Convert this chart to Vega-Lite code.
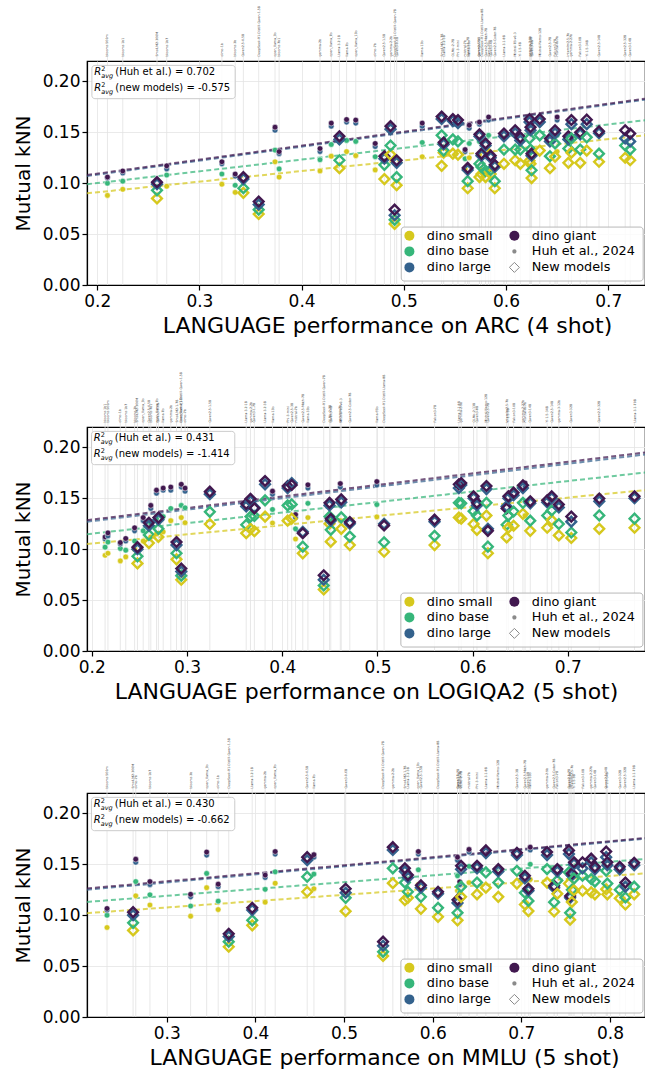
{
  "$schema": "https://vega.github.io/schema/vega-lite/v6.json",
  "padding": {"left": 12, "top": 5, "right": 0, "bottom": 0},
  "bounds": "flush",
  "spacing": 142,
  "config": {
    "font": "DejaVu Sans",
    "view": {"stroke": "black", "strokeWidth": 1.2},
    "axis": {"domainColor": "black", "domainWidth": 1.2, "tickColor": "black", "tickWidth": 1.2, "tickSize": 5, "labelFontSize": 17, "labelColor": "black", "titleFontSize": 20, "titleFontWeight": "normal", "titleColor": "black", "grid": true, "gridColor": "#e8e8e8", "gridWidth": 0.9, "labelFont": "DejaVu Sans", "titleFont": "DejaVu Sans"},
    "axisX": {"titleFontSize": 22},
    "legend": {"labelFont": "DejaVu Sans", "padding": 6, "labelFontSize": 12.8, "labelColor": "black", "columnPadding": 14, "rowPadding": 1, "labelOffset": 11, "offset": 4, "symbolOpacity": 1, "symbolStrokeWidth": 1}
  },
  "resolve": {"scale": {"color": "independent", "fill": "independent", "stroke": "independent", "shape": "independent", "x": "independent", "y": "independent"}, "legend": {"color": "independent", "fill": "independent", "stroke": "independent", "shape": "independent"}, "axis": {"x": "independent", "y": "independent"}},
  "datasets": {
    "leg": [{"e":"dino small"},{"e":"dino base"},{"e":"dino large"},{"e":"dino giant"},{"e":"Huh et al., 2024"},{"e":"New models"}],
    "pts": [
      {"p":"ARC","t":"h","m":"bloomz-560m","x":0.210,"dino small":0.088,"dino base":0.100,"dino large":0.105,"dino giant":0.106},
      {"p":"ARC","t":"h","m":"bloomz-1b1","x":0.225,"dino small":0.094,"dino base":0.102,"dino large":0.110,"dino giant":0.112},
      {"p":"ARC","t":"h","m":"bloomz-1b7","x":0.268,"dino small":0.097,"dino base":0.108,"dino large":0.114,"dino giant":0.117},
      {"p":"ARC","t":"h","m":"olmo-1b","x":0.322,"dino small":0.099,"dino base":0.109,"dino large":0.119,"dino giant":0.121},
      {"p":"ARC","t":"h","m":"bloomz-3b","x":0.335,"dino small":0.091,"dino base":0.098,"dino large":0.107,"dino giant":0.109},
      {"p":"ARC","t":"h","m":"open_llama_3b","x":0.374,"dino small":0.121,"dino base":0.1325,"dino large":0.152,"dino giant":0.155},
      {"p":"ARC","t":"h","m":"bloomz-7b1","x":0.378,"dino small":0.106,"dino base":0.114,"dino large":0.129,"dino giant":0.131},
      {"p":"ARC","t":"h","m":"gemma-2b","x":0.418,"dino small":0.112,"dino base":0.123,"dino large":0.131,"dino giant":0.134},
      {"p":"ARC","t":"h","m":"open_llama_7b","x":0.429,"dino small":0.1265,"dino base":0.138,"dino large":0.156,"dino giant":0.159},
      {"p":"ARC","t":"h","m":"llama-7b","x":0.444,"dino small":0.131,"dino base":0.142,"dino large":0.160,"dino giant":0.1625},
      {"p":"ARC","t":"h","m":"open_llama_13b","x":0.453,"dino small":0.127,"dino base":0.141,"dino large":0.159,"dino giant":0.162},
      {"p":"ARC","t":"h","m":"olmo-7b","x":0.472,"dino small":0.113,"dino base":0.126,"dino large":0.136,"dino giant":0.139},
      {"p":"ARC","t":"h","m":"llama-13b","x":0.518,"dino small":0.126,"dino base":0.140,"dino large":0.156,"dino giant":0.159},
      {"p":"ARC","t":"h","m":"mistral-7b","x":0.560,"dino small":0.114,"dino base":0.124,"dino large":0.131,"dino giant":0.133},
      {"p":"ARC","t":"h","m":"llama-33b","x":0.564,"dino small":0.125,"dino base":0.139,"dino large":0.154,"dino giant":0.157},
      {"p":"ARC","t":"h","m":"gemma-7b","x":0.574,"dino small":0.128,"dino base":0.141,"dino large":0.158,"dino giant":0.160},
      {"p":"ARC","t":"h","m":"llama-65b","x":0.583,"dino small":0.132,"dino base":0.147,"dino large":0.162,"dino giant":0.165},
      {"p":"ARC","t":"h","m":"mixtral-8x7b","x":0.650,"dino small":0.131,"dino base":0.147,"dino large":0.162,"dino giant":0.165},
      {"p":"ARC","t":"n","m":"SmolLM2-360M","x":0.2585,"dino small":0.085,"dino base":0.093,"dino large":0.099,"dino giant":0.101},
      {"p":"ARC","t":"n","m":"Qwen2.5-0.5B","x":0.343,"dino small":0.0905,"dino base":0.095,"dino large":0.104,"dino giant":0.106},
      {"p":"ARC","t":"n","m":"DeepSeek-R1-Distill-Qwen-1.5B","x":0.358,"dino small":0.0697,"dino base":0.074,"dino large":0.079,"dino giant":0.082},
      {"p":"ARC","t":"n","m":"Llama-3.2-1B","x":0.437,"dino small":0.1147,"dino base":0.1225,"dino large":0.143,"dino giant":0.146},
      {"p":"ARC","t":"n","m":"Qwen2.5-1.5B","x":0.481,"dino small":0.104,"dino base":0.118,"dino large":0.124,"dino giant":0.1265},
      {"p":"ARC","t":"n","m":"gemma-2-2b","x":0.487,"dino small":0.128,"dino base":0.137,"dino large":0.153,"dino giant":0.156},
      {"p":"ARC","t":"n","m":"DeepSeek-R1-Distill-Qwen-7B","x":0.491,"dino small":0.060,"dino base":0.064,"dino large":0.0685,"dino giant":0.074},
      {"p":"ARC","t":"n","m":"Qwen3-0.6B","x":0.493,"dino small":0.098,"dino base":0.106,"dino large":0.120,"dino giant":0.1225},
      {"p":"ARC","t":"n","m":"SmolLM2-1.7B","x":0.537,"dino small":0.117,"dino base":0.147,"dino large":0.163,"dino giant":0.1655},
      {"p":"ARC","t":"n","m":"Llama-3.2-3B","x":0.539,"dino small":0.130,"dino base":0.132,"dino large":0.138,"dino giant":0.140},
      {"p":"ARC","t":"n","m":"OLMo-2-7B","x":0.548,"dino small":0.129,"dino base":0.143,"dino large":0.161,"dino giant":0.163},
      {"p":"ARC","t":"n","m":"Phi-3-mini","x":0.553,"dino small":0.128,"dino base":0.141,"dino large":0.159,"dino giant":0.162},
      {"p":"ARC","t":"n","m":"Qwen3-1.7B","x":0.5625,"dino small":0.095,"dino base":0.102,"dino large":0.113,"dino giant":0.115},
      {"p":"ARC","t":"n","m":"Qwen2.5-3B","x":0.574,"dino small":0.106,"dino base":0.119,"dino large":0.146,"dino giant":0.148},
      {"p":"ARC","t":"n","m":"DeepSeek-R1-Distill-Llama-8B","x":0.576,"dino small":0.109,"dino base":0.116,"dino large":0.127,"dino giant":0.129},
      {"p":"ARC","t":"n","m":"Qwen2.5-Math-7B","x":0.580,"dino small":0.106,"dino base":0.112,"dino large":0.137,"dino giant":0.139},
      {"p":"ARC","t":"n","m":"Qwen3-4B","x":0.585,"dino small":0.109,"dino base":0.113,"dino large":0.125,"dino giant":0.127},
      {"p":"ARC","t":"n","m":"Qwen2.5-Coder-7B","x":0.589,"dino small":0.095,"dino base":0.102,"dino large":0.116,"dino giant":0.118},
      {"p":"ARC","t":"n","m":"Llama-3.1-8B","x":0.598,"dino small":0.119,"dino base":0.133,"dino large":0.146,"dino giant":0.1487},
      {"p":"ARC","t":"n","m":"Mistral-7B-v0.3","x":0.609,"dino small":0.1225,"dino base":0.133,"dino large":0.149,"dino giant":0.152},
      {"p":"ARC","t":"n","m":"Yi-1.5-6B","x":0.614,"dino small":0.119,"dino base":0.133,"dino large":0.142,"dino giant":0.145},
      {"p":"ARC","t":"n","m":"gemma-2-9b","x":0.623,"dino small":0.122,"dino base":0.144,"dino large":0.160,"dino giant":0.163},
      {"p":"ARC","t":"n","m":"OLMo-2-13B","x":0.624,"dino small":0.119,"dino base":0.133,"dino large":0.152,"dino giant":0.155},
      {"p":"ARC","t":"n","m":"Qwen3-8B","x":0.625,"dino small":0.105,"dino base":0.1127,"dino large":0.127,"dino giant":0.129},
      {"p":"ARC","t":"n","m":"Mistral-Nemo-12B","x":0.633,"dino small":0.132,"dino base":0.147,"dino large":0.160,"dino giant":0.163},
      {"p":"ARC","t":"n","m":"Qwen2.5-7B","x":0.643,"dino small":0.1147,"dino base":0.1265,"dino large":0.141,"dino giant":0.1438},
      {"p":"ARC","t":"n","m":"Falcon3-7B","x":0.648,"dino small":0.126,"dino base":0.139,"dino large":0.149,"dino giant":0.152},
      {"p":"ARC","t":"n","m":"internlm2.5-7b","x":0.661,"dino small":0.120,"dino base":0.134,"dino large":0.143,"dino giant":0.146},
      {"p":"ARC","t":"n","m":"gemma-2-27b","x":0.664,"dino small":0.130,"dino base":0.144,"dino large":0.158,"dino giant":0.162},
      {"p":"ARC","t":"n","m":"Falcon3-10B","x":0.6726,"dino small":0.120,"dino base":0.133,"dino large":0.148,"dino giant":0.150},
      {"p":"ARC","t":"n","m":"Yi-1.5-34B","x":0.679,"dino small":0.132,"dino base":0.145,"dino large":0.158,"dino giant":0.1624},
      {"p":"ARC","t":"n","m":"Qwen2.5-14B","x":0.691,"dino small":0.121,"dino base":0.129,"dino large":0.149,"dino giant":0.151},
      {"p":"ARC","t":"n","m":"Qwen2.5-32B","x":0.7166,"dino small":0.125,"dino base":0.137,"dino large":0.144,"dino giant":0.152},
      {"p":"ARC","t":"n","m":"Qwen3-14B","x":0.7215,"dino small":0.1225,"dino base":0.133,"dino large":0.141,"dino giant":0.1487},

      {"p":"LOGIQA2","t":"h","m":"bloomz-1b1","x":0.214,"dino small":0.094,"dino base":0.102,"dino large":0.110,"dino giant":0.112},
      {"p":"LOGIQA2","t":"h","m":"bloomz-560m","x":0.217,"dino small":0.096,"dino base":0.107,"dino large":0.113,"dino giant":0.116},
      {"p":"LOGIQA2","t":"h","m":"olmo-1b","x":0.230,"dino small":0.0885,"dino base":0.1007,"dino large":0.105,"dino giant":0.1065},
      {"p":"LOGIQA2","t":"h","m":"bloomz-1b7","x":0.2357,"dino small":0.0924,"dino base":0.099,"dino large":0.108,"dino giant":0.1105},
      {"p":"LOGIQA2","t":"h","m":"bloomz-3b","x":0.245,"dino small":0.100,"dino base":0.108,"dino large":0.118,"dino giant":0.121},
      {"p":"LOGIQA2","t":"h","m":"open_llama_3b","x":0.254,"dino small":0.108,"dino base":0.118,"dino large":0.128,"dino giant":0.131},
      {"p":"LOGIQA2","t":"h","m":"bloomz-7b1","x":0.262,"dino small":0.112,"dino base":0.125,"dino large":0.140,"dino giant":0.143},
      {"p":"LOGIQA2","t":"h","m":"open_llama_7b","x":0.268,"dino small":0.115,"dino base":0.130,"dino large":0.155,"dino giant":0.158},
      {"p":"LOGIQA2","t":"h","m":"llama-7b","x":0.275,"dino small":0.117,"dino base":0.132,"dino large":0.158,"dino giant":0.160},
      {"p":"LOGIQA2","t":"h","m":"gemma-2b","x":0.283,"dino small":0.128,"dino base":0.140,"dino large":0.158,"dino giant":0.161},
      {"p":"LOGIQA2","t":"h","m":"open_llama_13b","x":0.294,"dino small":0.131,"dino base":0.143,"dino large":0.161,"dino giant":0.1637},
      {"p":"LOGIQA2","t":"h","m":"olmo-7b","x":0.298,"dino small":0.126,"dino base":0.1406,"dino large":0.157,"dino giant":0.160},
      {"p":"LOGIQA2","t":"h","m":"llama-13b","x":0.3898,"dino small":0.1257,"dino base":0.139,"dino large":0.154,"dino giant":0.157},
      {"p":"LOGIQA2","t":"h","m":"mistral-7b","x":0.414,"dino small":0.110,"dino base":0.120,"dino large":0.131,"dino giant":0.134},
      {"p":"LOGIQA2","t":"h","m":"llama-33b","x":0.427,"dino small":0.131,"dino base":0.145,"dino large":0.160,"dino giant":0.1632},
      {"p":"LOGIQA2","t":"h","m":"gemma-7b","x":0.461,"dino small":0.128,"dino base":0.143,"dino large":0.161,"dino giant":0.1644},
      {"p":"LOGIQA2","t":"h","m":"llama-65b","x":0.4994,"dino small":0.1317,"dino base":0.1438,"dino large":0.163,"dino giant":0.1664},
      {"p":"LOGIQA2","t":"h","m":"mixtral-8x7b","x":0.655,"dino small":0.133,"dino base":0.147,"dino large":0.162,"dino giant":0.165},
      {"p":"LOGIQA2","t":"n","m":"SmolLM2-360M","x":0.248,"dino small":0.086,"dino base":0.093,"dino large":0.100,"dino giant":0.102},
      {"p":"LOGIQA2","t":"n","m":"Qwen2.5-0.5B","x":0.260,"dino small":0.106,"dino base":0.114,"dino large":0.123,"dino giant":0.126},
      {"p":"LOGIQA2","t":"n","m":"Qwen3-0.6B","x":0.270,"dino small":0.112,"dino base":0.120,"dino large":0.129,"dino giant":0.131},
      {"p":"LOGIQA2","t":"n","m":"SmolLM2-1.7B","x":0.289,"dino small":0.090,"dino base":0.096,"dino large":0.104,"dino giant":0.107},
      {"p":"LOGIQA2","t":"n","m":"DeepSeek-R1-Distill-Qwen-1.5B","x":0.294,"dino small":0.070,"dino base":0.074,"dino large":0.078,"dino giant":0.081},
      {"p":"LOGIQA2","t":"n","m":"Qwen2.5-1.5B","x":0.324,"dino small":0.1247,"dino base":0.1367,"dino large":0.154,"dino giant":0.1565},
      {"p":"LOGIQA2","t":"n","m":"Llama-3.2-1B","x":0.3622,"dino small":0.1157,"dino base":0.124,"dino large":0.142,"dino giant":0.1445},
      {"p":"LOGIQA2","t":"n","m":"gemma-2-2b","x":0.3667,"dino small":0.120,"dino base":0.132,"dino large":0.147,"dino giant":0.1495},
      {"p":"LOGIQA2","t":"n","m":"Qwen3-1.7B","x":0.3708,"dino small":0.1176,"dino base":0.1326,"dino large":0.141,"dino giant":0.1401},
      {"p":"LOGIQA2","t":"n","m":"Llama-3.2-3B","x":0.382,"dino small":0.132,"dino base":0.148,"dino large":0.1637,"dino giant":0.167},
      {"p":"LOGIQA2","t":"n","m":"Phi-3-mini","x":0.4057,"dino small":0.128,"dino base":0.143,"dino large":0.160,"dino giant":0.162},
      {"p":"LOGIQA2","t":"n","m":"Qwen2.5-3B","x":0.410,"dino small":0.130,"dino base":0.144,"dino large":0.165,"dino giant":0.163},
      {"p":"LOGIQA2","t":"n","m":"Qwen2.5-Math-7B","x":0.4216,"dino small":0.0959,"dino base":0.1025,"dino large":0.117,"dino giant":0.1157},
      {"p":"LOGIQA2","t":"n","m":"DeepSeek-R1-Distill-Qwen-7B","x":0.4436,"dino small":0.0604,"dino base":0.0643,"dino large":0.070,"dino giant":0.0743},
      {"p":"LOGIQA2","t":"n","m":"OLMo-2-7B","x":0.4497,"dino small":0.125,"dino base":0.132,"dino large":0.143,"dino giant":0.1455},
      {"p":"LOGIQA2","t":"n","m":"Qwen3-4B","x":0.451,"dino small":0.1074,"dino base":0.119,"dino large":0.128,"dino giant":0.1298},
      {"p":"LOGIQA2","t":"n","m":"Mistral-7B-v0.3","x":0.462,"dino small":0.120,"dino base":0.1313,"dino large":0.146,"dino giant":0.1489},
      {"p":"LOGIQA2","t":"n","m":"Qwen2.5-Coder-7B","x":0.471,"dino small":0.104,"dino base":0.1124,"dino large":0.125,"dino giant":0.1266},
      {"p":"LOGIQA2","t":"n","m":"DeepSeek-R1-Distill-Llama-8B","x":0.507,"dino small":0.0975,"dino base":0.1068,"dino large":0.125,"dino giant":0.1233},
      {"p":"LOGIQA2","t":"n","m":"Falcon3-7B","x":0.560,"dino small":0.104,"dino base":0.1131,"dino large":0.127,"dino giant":0.129},
      {"p":"LOGIQA2","t":"n","m":"Llama-3.1-8B","x":0.5855,"dino small":0.131,"dino base":0.1455,"dino large":0.160,"dino giant":0.1637},
      {"p":"LOGIQA2","t":"n","m":"gemma-2-9b","x":0.588,"dino small":0.130,"dino base":0.145,"dino large":0.163,"dino giant":0.165},
      {"p":"LOGIQA2","t":"n","m":"OLMo-2-13B","x":0.601,"dino small":0.1247,"dino base":0.1373,"dino large":0.150,"dino giant":0.152},
      {"p":"LOGIQA2","t":"n","m":"Qwen3-8B","x":0.6045,"dino small":0.119,"dino base":0.133,"dino large":0.143,"dino giant":0.1455},
      {"p":"LOGIQA2","t":"n","m":"Mistral-Nemo-12B","x":0.6145,"dino small":0.133,"dino base":0.1455,"dino large":0.159,"dino giant":0.162},
      {"p":"LOGIQA2","t":"n","m":"Qwen2.5-7B","x":0.616,"dino small":0.096,"dino base":0.1025,"dino large":0.120,"dino giant":0.118},
      {"p":"LOGIQA2","t":"n","m":"internlm2.5-7b","x":0.6357,"dino small":0.1115,"dino base":0.124,"dino large":0.142,"dino giant":0.140},
      {"p":"LOGIQA2","t":"n","m":"Yi-1.5-9B","x":0.6375,"dino small":0.121,"dino base":0.133,"dino large":0.150,"dino giant":0.152},
      {"p":"LOGIQA2","t":"n","m":"Falcon3-10B","x":0.643,"dino small":0.123,"dino base":0.137,"dino large":0.153,"dino giant":0.1555},
      {"p":"LOGIQA2","t":"n","m":"gemma-2-27b","x":0.6528,"dino small":0.1347,"dino base":0.1455,"dino large":0.160,"dino giant":0.1627},
      {"p":"LOGIQA2","t":"n","m":"Qwen3-14B","x":0.6605,"dino small":0.118,"dino base":0.128,"dino large":0.145,"dino giant":0.147},
      {"p":"LOGIQA2","t":"n","m":"Yi-1.5-34B","x":0.6783,"dino small":0.121,"dino base":0.133,"dino large":0.146,"dino giant":0.148},
      {"p":"LOGIQA2","t":"n","m":"Qwen2.5-14B","x":0.683,"dino small":0.1285,"dino base":0.138,"dino large":0.150,"dino giant":0.152},
      {"p":"LOGIQA2","t":"n","m":"gemma-3-12b","x":0.6905,"dino small":0.1135,"dino base":0.1247,"dino large":0.141,"dino giant":0.1438},
      {"p":"LOGIQA2","t":"n","m":"Qwen3-32B","x":0.7036,"dino small":0.111,"dino base":0.1164,"dino large":0.127,"dino giant":0.132},
      {"p":"LOGIQA2","t":"n","m":"Qwen2.5-32B","x":0.733,"dino small":0.120,"dino base":0.1332,"dino large":0.147,"dino giant":0.1498},
      {"p":"LOGIQA2","t":"n","m":"Llama-3.1-70B","x":0.770,"dino small":0.121,"dino base":0.130,"dino large":0.150,"dino giant":0.152},

      {"p":"MMLU","t":"h","m":"bloomz-560m","x":0.2326,"dino small":0.0879,"dino base":0.100,"dino large":0.105,"dino giant":0.1066},
      {"p":"MMLU","t":"h","m":"olmo-7b","x":0.265,"dino small":0.119,"dino base":0.133,"dino large":0.152,"dino giant":0.155},
      {"p":"MMLU","t":"h","m":"bloomz-1b7","x":0.281,"dino small":0.110,"dino base":0.120,"dino large":0.130,"dino giant":0.133},
      {"p":"MMLU","t":"h","m":"bloomz-3b","x":0.3269,"dino small":0.099,"dino base":0.109,"dino large":0.118,"dino giant":0.1205},
      {"p":"MMLU","t":"h","m":"open_llama_3b","x":0.345,"dino small":0.127,"dino base":0.141,"dino large":0.159,"dino giant":0.162},
      {"p":"MMLU","t":"h","m":"olmo-1b","x":0.358,"dino small":0.1055,"dino base":0.1138,"dino large":0.128,"dino giant":0.1305},
      {"p":"MMLU","t":"h","m":"gemma-2b","x":0.411,"dino small":0.1128,"dino base":0.1254,"dino large":0.137,"dino giant":0.1394},
      {"p":"MMLU","t":"h","m":"open_llama_7b","x":0.4223,"dino small":0.1314,"dino base":0.1426,"dino large":0.160,"dino giant":0.1625},
      {"p":"MMLU","t":"h","m":"llama-7b","x":0.466,"dino small":0.126,"dino base":0.1404,"dino large":0.157,"dino giant":0.1594},
      {"p":"MMLU","t":"h","m":"open_llama_13b","x":0.5838,"dino small":0.130,"dino base":0.1446,"dino large":0.160,"dino giant":0.1625},
      {"p":"MMLU","t":"h","m":"llama-13b","x":0.628,"dino small":0.124,"dino base":0.1387,"dino large":0.154,"dino giant":0.157},
      {"p":"MMLU","t":"h","m":"gemma-7b","x":0.6305,"dino small":0.110,"dino base":0.122,"dino large":0.130,"dino giant":0.1328},
      {"p":"MMLU","t":"h","m":"mistral-7b","x":0.641,"dino small":0.132,"dino base":0.148,"dino large":0.162,"dino giant":0.1646},
      {"p":"MMLU","t":"h","m":"llama-33b","x":0.710,"dino small":0.135,"dino base":0.150,"dino large":0.164,"dino giant":0.1668},
      {"p":"MMLU","t":"n","m":"SmolLM2-360M","x":0.262,"dino small":0.085,"dino base":0.0925,"dino large":0.100,"dino giant":0.103},
      {"p":"MMLU","t":"n","m":"DeepSeek-R1-Distill-Qwen-1.5B","x":0.3699,"dino small":0.069,"dino base":0.074,"dino large":0.079,"dino giant":0.0817},
      {"p":"MMLU","t":"n","m":"Llama-3.2-1B","x":0.3964,"dino small":0.090,"dino base":0.0949,"dino large":0.105,"dino giant":0.1072},
      {"p":"MMLU","t":"n","m":"Qwen2.5-0.5B","x":0.4584,"dino small":0.123,"dino base":0.1377,"dino large":0.154,"dino giant":0.157},
      {"p":"MMLU","t":"n","m":"Qwen3-0.6B","x":0.5018,"dino small":0.1039,"dino base":0.117,"dino large":0.122,"dino giant":0.126},
      {"p":"MMLU","t":"n","m":"DeepSeek-R1-Distill-Qwen-7B","x":0.544,"dino small":0.060,"dino base":0.064,"dino large":0.070,"dino giant":0.074},
      {"p":"MMLU","t":"n","m":"gemma-2-2b","x":0.555,"dino small":0.1314,"dino base":0.146,"dino large":0.164,"dino giant":0.1668},
      {"p":"MMLU","t":"n","m":"SmolLM2-1.7B","x":0.5686,"dino small":0.1148,"dino base":0.132,"dino large":0.143,"dino giant":0.146},
      {"p":"MMLU","t":"n","m":"Llama-3.2-3B","x":0.572,"dino small":0.117,"dino base":0.123,"dino large":0.137,"dino giant":0.1394},
      {"p":"MMLU","t":"n","m":"Qwen2.5-1.5B","x":0.5867,"dino small":0.1062,"dino base":0.118,"dino large":0.127,"dino giant":0.1294},
      {"p":"MMLU","t":"n","m":"DeepSeek-R1-Distill-Llama-8B","x":0.606,"dino small":0.0984,"dino base":0.1072,"dino large":0.121,"dino giant":0.123},
      {"p":"MMLU","t":"n","m":"Qwen3-1.7B","x":0.628,"dino small":0.0949,"dino base":0.1023,"dino large":0.112,"dino giant":0.1151},
      {"p":"MMLU","t":"n","m":"OLMo-2-7B","x":0.632,"dino small":0.118,"dino base":0.128,"dino large":0.145,"dino giant":0.1485},
      {"p":"MMLU","t":"n","m":"Phi-3-mini","x":0.650,"dino small":0.1205,"dino base":0.132,"dino large":0.146,"dino giant":0.1485},
      {"p":"MMLU","t":"n","m":"Llama-3.1-8B","x":0.660,"dino small":0.127,"dino base":0.142,"dino large":0.161,"dino giant":0.1636},
      {"p":"MMLU","t":"n","m":"Mistral-Nemo-12B","x":0.674,"dino small":0.118,"dino base":0.132,"dino large":0.143,"dino giant":0.1453},
      {"p":"MMLU","t":"n","m":"Qwen2.5-3B","x":0.695,"dino small":0.131,"dino base":0.1436,"dino large":0.159,"dino giant":0.1613},
      {"p":"MMLU","t":"n","m":"Qwen2.5-Math-7B","x":0.704,"dino small":0.1105,"dino base":0.122,"dino large":0.136,"dino giant":0.1387},
      {"p":"MMLU","t":"n","m":"Qwen3-4B","x":0.708,"dino small":0.104,"dino base":0.114,"dino large":0.124,"dino giant":0.126},
      {"p":"MMLU","t":"n","m":"gemma-2-9b","x":0.729,"dino small":0.132,"dino base":0.1453,"dino large":0.159,"dino giant":0.162},
      {"p":"MMLU","t":"n","m":"Qwen2.5-Coder-7B","x":0.737,"dino small":0.1036,"dino base":0.1128,"dino large":0.127,"dino giant":0.1289},
      {"p":"MMLU","t":"n","m":"Falcon3-7B","x":0.7406,"dino small":0.121,"dino base":0.134,"dino large":0.143,"dino giant":0.1453},
      {"p":"MMLU","t":"n","m":"Qwen2.5-7B","x":0.7537,"dino small":0.131,"dino base":0.142,"dino large":0.160,"dino giant":0.1636},
      {"p":"MMLU","t":"n","m":"Qwen3-8B","x":0.755,"dino small":0.0956,"dino base":0.1023,"dino large":0.117,"dino giant":0.1188},
      {"p":"MMLU","t":"n","m":"internlm2.5-7b","x":0.757,"dino small":0.113,"dino base":0.125,"dino large":0.139,"dino giant":0.141},
      {"p":"MMLU","t":"n","m":"Yi-1.5-9B","x":0.7594,"dino small":0.1245,"dino base":0.136,"dino large":0.150,"dino giant":0.152},
      {"p":"MMLU","t":"n","m":"Falcon3-10B","x":0.769,"dino small":0.124,"dino base":0.1387,"dino large":0.146,"dino giant":0.152},
      {"p":"MMLU","t":"n","m":"gemma-2-27b","x":0.7788,"dino small":0.1225,"dino base":0.1355,"dino large":0.152,"dino giant":0.1555},
      {"p":"MMLU","t":"n","m":"Qwen3-14B","x":0.783,"dino small":0.1205,"dino base":0.133,"dino large":0.145,"dino giant":0.1475},
      {"p":"MMLU","t":"n","m":"Qwen2.5-14B","x":0.7957,"dino small":0.1255,"dino base":0.1436,"dino large":0.157,"dino giant":0.1625},
      {"p":"MMLU","t":"n","m":"Yi-1.5-34B","x":0.797,"dino small":0.1205,"dino base":0.131,"dino large":0.149,"dino giant":0.152},
      {"p":"MMLU","t":"n","m":"Qwen3-32B","x":0.811,"dino small":0.1166,"dino base":0.125,"dino large":0.145,"dino giant":0.1475},
      {"p":"MMLU","t":"n","m":"Qwen2.5-32B","x":0.8174,"dino small":0.1105,"dino base":0.1174,"dino large":0.128,"dino giant":0.132},
      {"p":"MMLU","t":"n","m":"Llama-3.1-70B","x":0.8273,"dino small":0.1205,"dino base":0.128,"dino large":0.149,"dino giant":0.1515}
    ],
    "fits": [
      {"p":"ARC","dino":"dino small","x":0.19,"y":0.090},{"p":"ARC","dino":"dino small","x":0.736,"y":0.147},
      {"p":"ARC","dino":"dino base","x":0.19,"y":0.099},{"p":"ARC","dino":"dino base","x":0.736,"y":0.1618},
      {"p":"ARC","dino":"dino large","x":0.19,"y":0.107},{"p":"ARC","dino":"dino large","x":0.736,"y":0.182},
      {"p":"ARC","dino":"dino giant","x":0.19,"y":0.108},{"p":"ARC","dino":"dino giant","x":0.736,"y":0.183},
      {"p":"LOGIQA2","dino":"dino small","x":0.195,"y":0.105},{"p":"LOGIQA2","dino":"dino small","x":0.781,"y":0.158},
      {"p":"LOGIQA2","dino":"dino base","x":0.195,"y":0.1147},{"p":"LOGIQA2","dino":"dino base","x":0.781,"y":0.1753},
      {"p":"LOGIQA2","dino":"dino large","x":0.195,"y":0.127},{"p":"LOGIQA2","dino":"dino large","x":0.781,"y":0.193},
      {"p":"LOGIQA2","dino":"dino giant","x":0.195,"y":0.1285},{"p":"LOGIQA2","dino":"dino giant","x":0.781,"y":0.195},
      {"p":"MMLU","dino":"dino small","x":0.21,"y":0.102},{"p":"MMLU","dino":"dino small","x":0.8395,"y":0.141},
      {"p":"MMLU","dino":"dino base","x":0.21,"y":0.113},{"p":"MMLU","dino":"dino base","x":0.8395,"y":0.1552},
      {"p":"MMLU","dino":"dino large","x":0.21,"y":0.125},{"p":"MMLU","dino":"dino large","x":0.8395,"y":0.175},
      {"p":"MMLU","dino":"dino giant","x":0.21,"y":0.1262},{"p":"MMLU","dino":"dino giant","x":0.8395,"y":0.1758}
    ],
    "ann": [
      {"p":"ARC","r":"R\nR","s2":"2\n2","sub":"avg\navg","txt":"(Huh et al.) = 0.702\n(new models) = -0.575"},
      {"p":"LOGIQA2","r":"R\nR","s2":"2\n2","sub":"avg\navg","txt":"(Huh et al.) = 0.431\n(new models) = -1.414"},
      {"p":"MMLU","r":"R\nR","s2":"2\n2","sub":"avg\navg","txt":"(Huh et al.) = 0.430\n(new models) = -0.662"}
    ]
  },
  "vconcat": [
    {
      "width": 558, "height": 224,
      "layer": [
        {"data": {"name": "pts"}, "transform": [{"filter": "datum.p == 'ARC'"}],
         "mark": {"type": "rule", "color": "#e2e2e2", "strokeWidth": 0.8},
         "encoding": {
           "x": {"field": "x", "type": "quantitative", "scale": {"domain": [0.19, 0.736], "nice": false, "zero": false}, "axis": {"format": ".1f", "tickCount": 6, "titlePadding": 6, "labelPadding": 3, "titleX": 300}, "title": "LANGUAGE performance on ARC (4 shot)"},
           "y": {"datum": 0, "type": "quantitative", "scale": {"domain": [0, 0.22], "nice": false}, "axis": {"format": ".2f", "tickCount": 5, "titlePadding": 9, "labelPadding": 2}, "title": "Mutual kNN"},
           "y2": {"datum": 0.2245}}},
        {"data": {"name": "fits"}, "transform": [{"filter": "datum.p == 'ARC'"}],
         "mark": {"type": "line", "strokeDash": [5, 3], "strokeWidth": 2, "opacity": 0.72},
         "encoding": {
           "x": {"field": "x", "type": "quantitative", "title": "LANGUAGE performance on ARC (4 shot)"},
           "y": {"field": "y", "type": "quantitative", "title": "Mutual kNN"},
           "color": {"field": "dino", "type": "nominal", "legend": null, "scale": {"domain": ["dino small", "dino base", "dino large", "dino giant"], "range": ["#d6c81d", "#36b67a", "#34628d", "#41184f"]}}}},
        {"data": {"name": "pts"}, "transform": [{"filter": "datum.p == 'ARC' && datum.t == 'h'"}, {"fold": ["dino small", "dino base", "dino large", "dino giant"], "as": ["dino", "mk"]}],
         "mark": {"type": "point", "shape": "circle", "filled": true, "size": 32, "stroke": "white", "strokeWidth": 0.5, "opacity": 1},
         "encoding": {
           "x": {"field": "x", "type": "quantitative", "title": "LANGUAGE performance on ARC (4 shot)"},
           "y": {"field": "mk", "type": "quantitative", "title": "Mutual kNN"},
           "color": {"field": "dino", "type": "nominal", "legend": null, "scale": {"domain": ["dino small", "dino base", "dino large", "dino giant"], "range": ["#d6c81d", "#36b67a", "#34628d", "#41184f"]}}}},
        {"data": {"name": "pts"}, "transform": [{"filter": "datum.p == 'ARC' && datum.t == 'n'"}, {"fold": ["dino small", "dino base", "dino large", "dino giant"], "as": ["dino", "mk"]}],
         "mark": {"type": "point", "shape": "diamond", "filled": false, "size": 95, "strokeWidth": 2.4, "opacity": 1},
         "encoding": {
           "x": {"field": "x", "type": "quantitative", "title": "LANGUAGE performance on ARC (4 shot)"},
           "y": {"field": "mk", "type": "quantitative", "title": "Mutual kNN"},
           "color": {"field": "dino", "type": "nominal", "legend": null, "scale": {"domain": ["dino small", "dino base", "dino large", "dino giant"], "range": ["#d6c81d", "#36b67a", "#34628d", "#41184f"]}}}},
        {"data": {"name": "ann"}, "transform": [{"filter": "datum.p == 'ARC'"}],
         "mark": {"type": "rect", "fill": "white", "fillOpacity": 0.8, "stroke": "#b8b8b8", "strokeWidth": 1, "cornerRadius": 3},
         "encoding": {
           "x": {"datum": 0.4975, "type": "quantitative", "title": "LANGUAGE performance on ARC (4 shot)"}, "x2": {"datum": 0.7342},
           "y": {"datum": 0.0569, "type": "quantitative", "title": "Mutual kNN"}, "y2": {"datum": 0.0039}}},
        {"data": {"name": "leg"},
         "mark": {"type": "point", "opacity": 0, "size": 40},
         "encoding": {
           "fill": {"field": "e", "type": "nominal", "scale": {"domain": ["dino small", "dino base", "dino large", "dino giant", "Huh et al., 2024", "New models"], "range": ["#d6c81d", "#36b67a", "#34628d", "#41184f", "#8a8a8a", "transparent"]}, "legend": {"title": null, "orient": "bottom-right", "columns": 2, "symbolOpacity": 1}},
           "stroke": {"field": "e", "type": "nominal", "scale": {"domain": ["dino small", "dino base", "dino large", "dino giant", "Huh et al., 2024", "New models"], "range": ["transparent", "transparent", "transparent", "transparent", "transparent", "#8a8a8a"]}, "legend": {"title": null, "orient": "bottom-right", "columns": 2, "symbolOpacity": 1}},
           "shape": {"field": "e", "type": "nominal", "scale": {"domain": ["dino small", "dino base", "dino large", "dino giant", "Huh et al., 2024", "New models"], "range": ["circle", "circle", "circle", "circle", "M-0.42,0A0.42,0.42 0 1,1 0.42,0A0.42,0.42 0 1,1 -0.42,0Z", "diamond"]}, "legend": {"title": null, "orient": "bottom-right", "columns": 2, "symbolOpacity": 1}}}},
        {"data": {"name": "pts"}, "transform": [{"filter": "datum.p == 'ARC'"}],
         "mark": {"type": "text", "angle": 270, "align": "left", "baseline": "middle", "fontSize": 3.2, "color": "#444444"},
         "encoding": {
           "x": {"field": "x", "type": "quantitative", "title": "LANGUAGE performance on ARC (4 shot)"},
           "y": {"datum": 0.2245, "type": "quantitative", "title": "Mutual kNN"},
           "text": {"field": "m"}}},
        {"data": {"name": "ann"}, "transform": [{"filter": "datum.p == 'ARC'"}],
         "mark": {"type": "rect", "fill": "white", "fillOpacity": 0.85, "stroke": "#cccccc", "strokeWidth": 1, "cornerRadius": 3},
         "encoding": {
           "x": {"datum": 0.1948, "type": "quantitative", "title": "LANGUAGE performance on ARC (4 shot)"}, "x2": {"datum": 0.335},
           "y": {"datum": 0.2157, "type": "quantitative", "title": "Mutual kNN"}, "y2": {"datum": 0.1830}}},
        {"data": {"name": "ann"}, "transform": [{"filter": "datum.p == 'ARC'"}],
         "mark": {"type": "text", "align": "left", "baseline": "alphabetic", "fontSize": 10, "fontStyle": "italic", "lineBreak": "\n", "lineHeight": 16, "color": "black"},
         "encoding": {"x": {"datum": 0.1971, "type": "quantitative", "title": "LANGUAGE performance on ARC (4 shot)"}, "y": {"datum": 0.2059, "type": "quantitative", "title": "Mutual kNN"}, "text": {"field": "r"}}},
        {"data": {"name": "ann"}, "transform": [{"filter": "datum.p == 'ARC'"}],
         "mark": {"type": "text", "align": "left", "baseline": "alphabetic", "fontSize": 6.5, "dx": 7, "dy": -4.5, "lineBreak": "\n", "lineHeight": 16, "color": "black"},
         "encoding": {"x": {"datum": 0.1971, "type": "quantitative", "title": "LANGUAGE performance on ARC (4 shot)"}, "y": {"datum": 0.2059, "type": "quantitative", "title": "Mutual kNN"}, "text": {"field": "s2"}}},
        {"data": {"name": "ann"}, "transform": [{"filter": "datum.p == 'ARC'"}],
         "mark": {"type": "text", "align": "left", "baseline": "alphabetic", "fontSize": 6.5, "fontStyle": "italic", "dx": 7, "dy": 2.5, "lineBreak": "\n", "lineHeight": 16, "color": "black"},
         "encoding": {"x": {"datum": 0.1971, "type": "quantitative", "title": "LANGUAGE performance on ARC (4 shot)"}, "y": {"datum": 0.2059, "type": "quantitative", "title": "Mutual kNN"}, "text": {"field": "sub"}}},
        {"data": {"name": "ann"}, "transform": [{"filter": "datum.p == 'ARC'"}],
         "mark": {"type": "text", "align": "left", "baseline": "alphabetic", "fontSize": 10, "dx": 21, "lineBreak": "\n", "lineHeight": 16, "color": "black"},
         "encoding": {"x": {"datum": 0.1971, "type": "quantitative", "title": "LANGUAGE performance on ARC (4 shot)"}, "y": {"datum": 0.2059, "type": "quantitative", "title": "Mutual kNN"}, "text": {"field": "txt"}}}
      ]
    },
    {
      "width": 558, "height": 224,
      "layer": [
        {"data": {"name": "pts"}, "transform": [{"filter": "datum.p == 'LOGIQA2'"}],
         "mark": {"type": "rule", "color": "#e2e2e2", "strokeWidth": 0.8},
         "encoding": {
           "x": {"field": "x", "type": "quantitative", "scale": {"domain": [0.195, 0.781], "nice": false, "zero": false}, "axis": {"format": ".1f", "tickCount": 6, "titlePadding": 6, "labelPadding": 3}, "title": "LANGUAGE performance on LOGIQA2 (5 shot)"},
           "y": {"datum": 0, "type": "quantitative", "scale": {"domain": [0, 0.22], "nice": false}, "axis": {"format": ".2f", "tickCount": 5, "titlePadding": 9, "labelPadding": 2}, "title": "Mutual kNN"},
           "y2": {"datum": 0.2245}}},
        {"data": {"name": "fits"}, "transform": [{"filter": "datum.p == 'LOGIQA2'"}],
         "mark": {"type": "line", "strokeDash": [5, 3], "strokeWidth": 2, "opacity": 0.72},
         "encoding": {
           "x": {"field": "x", "type": "quantitative", "title": "LANGUAGE performance on LOGIQA2 (5 shot)"},
           "y": {"field": "y", "type": "quantitative", "title": "Mutual kNN"},
           "color": {"field": "dino", "type": "nominal", "legend": null, "scale": {"domain": ["dino small", "dino base", "dino large", "dino giant"], "range": ["#d6c81d", "#36b67a", "#34628d", "#41184f"]}}}},
        {"data": {"name": "pts"}, "transform": [{"filter": "datum.p == 'LOGIQA2' && datum.t == 'h'"}, {"fold": ["dino small", "dino base", "dino large", "dino giant"], "as": ["dino", "mk"]}],
         "mark": {"type": "point", "shape": "circle", "filled": true, "size": 32, "stroke": "white", "strokeWidth": 0.5, "opacity": 1},
         "encoding": {
           "x": {"field": "x", "type": "quantitative", "title": "LANGUAGE performance on LOGIQA2 (5 shot)"},
           "y": {"field": "mk", "type": "quantitative", "title": "Mutual kNN"},
           "color": {"field": "dino", "type": "nominal", "legend": null, "scale": {"domain": ["dino small", "dino base", "dino large", "dino giant"], "range": ["#d6c81d", "#36b67a", "#34628d", "#41184f"]}}}},
        {"data": {"name": "pts"}, "transform": [{"filter": "datum.p == 'LOGIQA2' && datum.t == 'n'"}, {"fold": ["dino small", "dino base", "dino large", "dino giant"], "as": ["dino", "mk"]}],
         "mark": {"type": "point", "shape": "diamond", "filled": false, "size": 95, "strokeWidth": 2.4, "opacity": 1},
         "encoding": {
           "x": {"field": "x", "type": "quantitative", "title": "LANGUAGE performance on LOGIQA2 (5 shot)"},
           "y": {"field": "mk", "type": "quantitative", "title": "Mutual kNN"},
           "color": {"field": "dino", "type": "nominal", "legend": null, "scale": {"domain": ["dino small", "dino base", "dino large", "dino giant"], "range": ["#d6c81d", "#36b67a", "#34628d", "#41184f"]}}}},
        {"data": {"name": "ann"}, "transform": [{"filter": "datum.p == 'LOGIQA2'"}],
         "mark": {"type": "rect", "fill": "white", "fillOpacity": 0.8, "stroke": "#b8b8b8", "strokeWidth": 1, "cornerRadius": 3},
         "encoding": {
           "x": {"datum": 0.5246, "type": "quantitative", "title": "LANGUAGE performance on LOGIQA2 (5 shot)"}, "x2": {"datum": 0.7788},
           "y": {"datum": 0.0569, "type": "quantitative", "title": "Mutual kNN"}, "y2": {"datum": 0.0039}}},
        {"data": {"name": "leg"},
         "mark": {"type": "point", "opacity": 0, "size": 40},
         "encoding": {
           "fill": {"field": "e", "type": "nominal", "scale": {"domain": ["dino small", "dino base", "dino large", "dino giant", "Huh et al., 2024", "New models"], "range": ["#d6c81d", "#36b67a", "#34628d", "#41184f", "#8a8a8a", "transparent"]}, "legend": {"title": null, "orient": "bottom-right", "columns": 2, "symbolOpacity": 1}},
           "stroke": {"field": "e", "type": "nominal", "scale": {"domain": ["dino small", "dino base", "dino large", "dino giant", "Huh et al., 2024", "New models"], "range": ["transparent", "transparent", "transparent", "transparent", "transparent", "#8a8a8a"]}, "legend": {"title": null, "orient": "bottom-right", "columns": 2, "symbolOpacity": 1}},
           "shape": {"field": "e", "type": "nominal", "scale": {"domain": ["dino small", "dino base", "dino large", "dino giant", "Huh et al., 2024", "New models"], "range": ["circle", "circle", "circle", "circle", "M-0.42,0A0.42,0.42 0 1,1 0.42,0A0.42,0.42 0 1,1 -0.42,0Z", "diamond"]}, "legend": {"title": null, "orient": "bottom-right", "columns": 2, "symbolOpacity": 1}}}},
        {"data": {"name": "pts"}, "transform": [{"filter": "datum.p == 'LOGIQA2'"}],
         "mark": {"type": "text", "angle": 270, "align": "left", "baseline": "middle", "fontSize": 3.2, "color": "#444444"},
         "encoding": {
           "x": {"field": "x", "type": "quantitative", "title": "LANGUAGE performance on LOGIQA2 (5 shot)"},
           "y": {"datum": 0.2245, "type": "quantitative", "title": "Mutual kNN"},
           "text": {"field": "m"}}},
        {"data": {"name": "ann"}, "transform": [{"filter": "datum.p == 'LOGIQA2'"}],
         "mark": {"type": "rect", "fill": "white", "fillOpacity": 0.85, "stroke": "#cccccc", "strokeWidth": 1, "cornerRadius": 3},
         "encoding": {
           "x": {"datum": 0.1997, "type": "quantitative", "title": "LANGUAGE performance on LOGIQA2 (5 shot)"}, "x2": {"datum": 0.3502},
           "y": {"datum": 0.2157, "type": "quantitative", "title": "Mutual kNN"}, "y2": {"datum": 0.1830}}},
        {"data": {"name": "ann"}, "transform": [{"filter": "datum.p == 'LOGIQA2'"}],
         "mark": {"type": "text", "align": "left", "baseline": "alphabetic", "fontSize": 10, "fontStyle": "italic", "lineBreak": "\n", "lineHeight": 16, "color": "black"},
         "encoding": {"x": {"datum": 0.2021, "type": "quantitative", "title": "LANGUAGE performance on LOGIQA2 (5 shot)"}, "y": {"datum": 0.2059, "type": "quantitative", "title": "Mutual kNN"}, "text": {"field": "r"}}},
        {"data": {"name": "ann"}, "transform": [{"filter": "datum.p == 'LOGIQA2'"}],
         "mark": {"type": "text", "align": "left", "baseline": "alphabetic", "fontSize": 6.5, "dx": 7, "dy": -4.5, "lineBreak": "\n", "lineHeight": 16, "color": "black"},
         "encoding": {"x": {"datum": 0.2021, "type": "quantitative", "title": "LANGUAGE performance on LOGIQA2 (5 shot)"}, "y": {"datum": 0.2059, "type": "quantitative", "title": "Mutual kNN"}, "text": {"field": "s2"}}},
        {"data": {"name": "ann"}, "transform": [{"filter": "datum.p == 'LOGIQA2'"}],
         "mark": {"type": "text", "align": "left", "baseline": "alphabetic", "fontSize": 6.5, "fontStyle": "italic", "dx": 7, "dy": 2.5, "lineBreak": "\n", "lineHeight": 16, "color": "black"},
         "encoding": {"x": {"datum": 0.2021, "type": "quantitative", "title": "LANGUAGE performance on LOGIQA2 (5 shot)"}, "y": {"datum": 0.2059, "type": "quantitative", "title": "Mutual kNN"}, "text": {"field": "sub"}}},
        {"data": {"name": "ann"}, "transform": [{"filter": "datum.p == 'LOGIQA2'"}],
         "mark": {"type": "text", "align": "left", "baseline": "alphabetic", "fontSize": 10, "dx": 21, "lineBreak": "\n", "lineHeight": 16, "color": "black"},
         "encoding": {"x": {"datum": 0.2021, "type": "quantitative", "title": "LANGUAGE performance on LOGIQA2 (5 shot)"}, "y": {"datum": 0.2059, "type": "quantitative", "title": "Mutual kNN"}, "text": {"field": "txt"}}}
      ]
    },
    {
      "width": 558, "height": 224,
      "layer": [
        {"data": {"name": "pts"}, "transform": [{"filter": "datum.p == 'MMLU'"}],
         "mark": {"type": "rule", "color": "#e2e2e2", "strokeWidth": 0.8},
         "encoding": {
           "x": {"field": "x", "type": "quantitative", "scale": {"domain": [0.21, 0.8395], "nice": false, "zero": false}, "axis": {"format": ".1f", "tickCount": 6, "titlePadding": 6, "labelPadding": 3, "titleX": 297}, "title": "LANGUAGE performance on MMLU (5 shot)"},
           "y": {"datum": 0, "type": "quantitative", "scale": {"domain": [0, 0.22], "nice": false}, "axis": {"format": ".2f", "tickCount": 5, "titlePadding": 9, "labelPadding": 2}, "title": "Mutual kNN"},
           "y2": {"datum": 0.2245}}},
        {"data": {"name": "fits"}, "transform": [{"filter": "datum.p == 'MMLU'"}],
         "mark": {"type": "line", "strokeDash": [5, 3], "strokeWidth": 2, "opacity": 0.72},
         "encoding": {
           "x": {"field": "x", "type": "quantitative", "title": "LANGUAGE performance on MMLU (5 shot)"},
           "y": {"field": "y", "type": "quantitative", "title": "Mutual kNN"},
           "color": {"field": "dino", "type": "nominal", "legend": null, "scale": {"domain": ["dino small", "dino base", "dino large", "dino giant"], "range": ["#d6c81d", "#36b67a", "#34628d", "#41184f"]}}}},
        {"data": {"name": "pts"}, "transform": [{"filter": "datum.p == 'MMLU' && datum.t == 'h'"}, {"fold": ["dino small", "dino base", "dino large", "dino giant"], "as": ["dino", "mk"]}],
         "mark": {"type": "point", "shape": "circle", "filled": true, "size": 32, "stroke": "white", "strokeWidth": 0.5, "opacity": 1},
         "encoding": {
           "x": {"field": "x", "type": "quantitative", "title": "LANGUAGE performance on MMLU (5 shot)"},
           "y": {"field": "mk", "type": "quantitative", "title": "Mutual kNN"},
           "color": {"field": "dino", "type": "nominal", "legend": null, "scale": {"domain": ["dino small", "dino base", "dino large", "dino giant"], "range": ["#d6c81d", "#36b67a", "#34628d", "#41184f"]}}}},
        {"data": {"name": "pts"}, "transform": [{"filter": "datum.p == 'MMLU' && datum.t == 'n'"}, {"fold": ["dino small", "dino base", "dino large", "dino giant"], "as": ["dino", "mk"]}],
         "mark": {"type": "point", "shape": "diamond", "filled": false, "size": 95, "strokeWidth": 2.4, "opacity": 1},
         "encoding": {
           "x": {"field": "x", "type": "quantitative", "title": "LANGUAGE performance on MMLU (5 shot)"},
           "y": {"field": "mk", "type": "quantitative", "title": "Mutual kNN"},
           "color": {"field": "dino", "type": "nominal", "legend": null, "scale": {"domain": ["dino small", "dino base", "dino large", "dino giant"], "range": ["#d6c81d", "#36b67a", "#34628d", "#41184f"]}}}},
        {"data": {"name": "ann"}, "transform": [{"filter": "datum.p == 'MMLU'"}],
         "mark": {"type": "rect", "fill": "white", "fillOpacity": 0.8, "stroke": "#b8b8b8", "strokeWidth": 1, "cornerRadius": 3},
         "encoding": {
           "x": {"datum": 0.5641, "type": "quantitative", "title": "LANGUAGE performance on MMLU (5 shot)"}, "x2": {"datum": 0.8372},
           "y": {"datum": 0.0569, "type": "quantitative", "title": "Mutual kNN"}, "y2": {"datum": 0.0039}}},
        {"data": {"name": "leg"},
         "mark": {"type": "point", "opacity": 0, "size": 40},
         "encoding": {
           "fill": {"field": "e", "type": "nominal", "scale": {"domain": ["dino small", "dino base", "dino large", "dino giant", "Huh et al., 2024", "New models"], "range": ["#d6c81d", "#36b67a", "#34628d", "#41184f", "#8a8a8a", "transparent"]}, "legend": {"title": null, "orient": "bottom-right", "columns": 2, "symbolOpacity": 1}},
           "stroke": {"field": "e", "type": "nominal", "scale": {"domain": ["dino small", "dino base", "dino large", "dino giant", "Huh et al., 2024", "New models"], "range": ["transparent", "transparent", "transparent", "transparent", "transparent", "#8a8a8a"]}, "legend": {"title": null, "orient": "bottom-right", "columns": 2, "symbolOpacity": 1}},
           "shape": {"field": "e", "type": "nominal", "scale": {"domain": ["dino small", "dino base", "dino large", "dino giant", "Huh et al., 2024", "New models"], "range": ["circle", "circle", "circle", "circle", "M-0.42,0A0.42,0.42 0 1,1 0.42,0A0.42,0.42 0 1,1 -0.42,0Z", "diamond"]}, "legend": {"title": null, "orient": "bottom-right", "columns": 2, "symbolOpacity": 1}}}},
        {"data": {"name": "pts"}, "transform": [{"filter": "datum.p == 'MMLU'"}],
         "mark": {"type": "text", "angle": 270, "align": "left", "baseline": "middle", "fontSize": 3.2, "color": "#444444"},
         "encoding": {
           "x": {"field": "x", "type": "quantitative", "title": "LANGUAGE performance on MMLU (5 shot)"},
           "y": {"datum": 0.2245, "type": "quantitative", "title": "Mutual kNN"},
           "text": {"field": "m"}}},
        {"data": {"name": "ann"}, "transform": [{"filter": "datum.p == 'MMLU'"}],
         "mark": {"type": "rect", "fill": "white", "fillOpacity": 0.85, "stroke": "#cccccc", "strokeWidth": 1, "cornerRadius": 3},
         "encoding": {
           "x": {"datum": 0.215, "type": "quantitative", "title": "LANGUAGE performance on MMLU (5 shot)"}, "x2": {"datum": 0.3767},
           "y": {"datum": 0.2157, "type": "quantitative", "title": "Mutual kNN"}, "y2": {"datum": 0.1830}}},
        {"data": {"name": "ann"}, "transform": [{"filter": "datum.p == 'MMLU'"}],
         "mark": {"type": "text", "align": "left", "baseline": "alphabetic", "fontSize": 10, "fontStyle": "italic", "lineBreak": "\n", "lineHeight": 16, "color": "black"},
         "encoding": {"x": {"datum": 0.2176, "type": "quantitative", "title": "LANGUAGE performance on MMLU (5 shot)"}, "y": {"datum": 0.2059, "type": "quantitative", "title": "Mutual kNN"}, "text": {"field": "r"}}},
        {"data": {"name": "ann"}, "transform": [{"filter": "datum.p == 'MMLU'"}],
         "mark": {"type": "text", "align": "left", "baseline": "alphabetic", "fontSize": 6.5, "dx": 7, "dy": -4.5, "lineBreak": "\n", "lineHeight": 16, "color": "black"},
         "encoding": {"x": {"datum": 0.2176, "type": "quantitative", "title": "LANGUAGE performance on MMLU (5 shot)"}, "y": {"datum": 0.2059, "type": "quantitative", "title": "Mutual kNN"}, "text": {"field": "s2"}}},
        {"data": {"name": "ann"}, "transform": [{"filter": "datum.p == 'MMLU'"}],
         "mark": {"type": "text", "align": "left", "baseline": "alphabetic", "fontSize": 6.5, "fontStyle": "italic", "dx": 7, "dy": 2.5, "lineBreak": "\n", "lineHeight": 16, "color": "black"},
         "encoding": {"x": {"datum": 0.2176, "type": "quantitative", "title": "LANGUAGE performance on MMLU (5 shot)"}, "y": {"datum": 0.2059, "type": "quantitative", "title": "Mutual kNN"}, "text": {"field": "sub"}}},
        {"data": {"name": "ann"}, "transform": [{"filter": "datum.p == 'MMLU'"}],
         "mark": {"type": "text", "align": "left", "baseline": "alphabetic", "fontSize": 10, "dx": 21, "lineBreak": "\n", "lineHeight": 16, "color": "black"},
         "encoding": {"x": {"datum": 0.2176, "type": "quantitative", "title": "LANGUAGE performance on MMLU (5 shot)"}, "y": {"datum": 0.2059, "type": "quantitative", "title": "Mutual kNN"}, "text": {"field": "txt"}}}
      ]
    }
  ]
}
